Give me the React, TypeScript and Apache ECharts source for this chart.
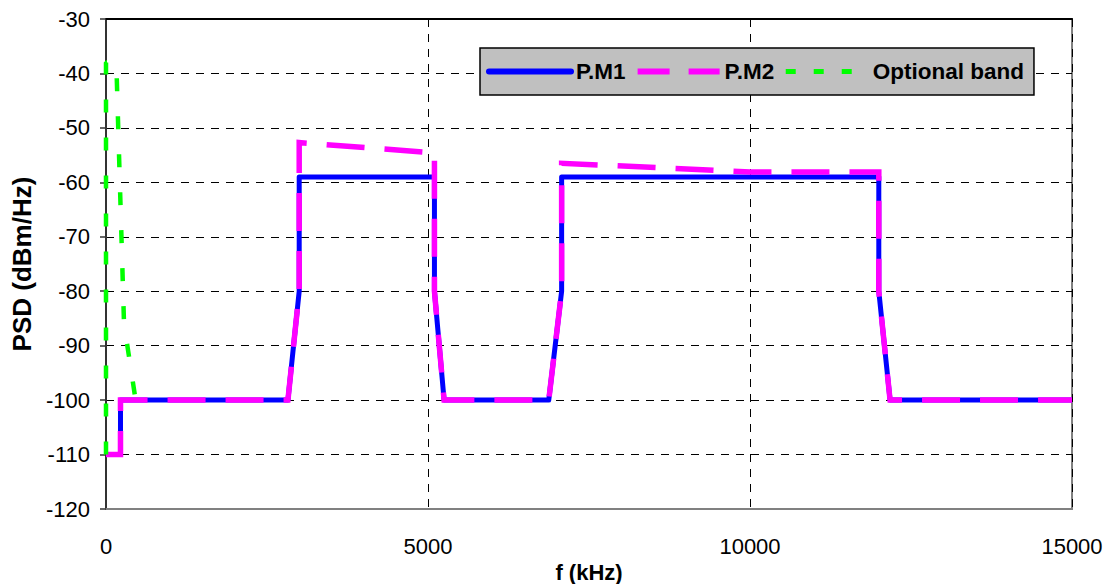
import React, { useEffect, useRef } from "react";
import * as echarts from "echarts";

const xTicks = [0, 5000, 10000, 15000];
const yTicks = [-120, -110, -100, -90, -80, -70, -60, -50, -40, -30];

const seriesNames = ["P.M1", "P.M2", "Optional band"];

const freqM1 = [0, 225, 225, 2825, 3000, 3000, 5100, 5100, 5250, 6875, 7075, 7075, 12000, 12000, 12175, 15000];
const psdM1 = [-110, -110, -100, -100, -80, -59, -59, -80, -100, -100, -80, -59, -59, -80, -100, -100];

const freqM2 = [0, 225, 225, 2825, 3000, 3000, 5100, 5100, 5250, 6875, 7075, 7075, 10000, 12000, 12000, 12175, 15000];
const psdM2 = [-110, -110, -100, -100, -80, -52.7, -54.6, -80, -100, -100, -80, -56.5, -58.1, -58.1, -80, -100, -100];

const freqOpt = [0, 0, 160, 280, 460];
const psdOpt = [-110, -38, -38, -86, -100];

const FONT = "'Liberation Sans', Arial, sans-serif";

function pairs(xs: number[], ys: number[]) {
  return xs.map((x, i) => [x, ys[i]]);
}

export default function App() {
  const ref = useRef<HTMLDivElement>(null);
  useEffect(() => {
    if (!ref.current) return;
    const chart = echarts.init(ref.current, null, { renderer: "svg" });
    chart.setOption({
      animation: false,
      backgroundColor: "#ffffff",
      grid: {
        left: 106,
        right: 44,
        top: 19,
        bottom: 75,
        containLabel: false,
        outerBoundsMode: "none",
        show: true,
        borderColor: "#808080",
        borderWidth: 2,
        backgroundColor: "transparent",
      },
      legend: {
        data: [
          {
            name: seriesNames[0],
            lineStyle: { width: 6, color: "#0000ff", type: "solid", cap: "round" },
            itemStyle: { opacity: 0 },
          },
          {
            name: seriesNames[1],
            lineStyle: { width: 6, color: "#ff00ff", type: [32, 19] },
            itemStyle: { opacity: 0 },
          },
          {
            name: seriesNames[2],
            lineStyle: { width: 5, color: "#00ff00", type: [10, 18] },
            itemStyle: { opacity: 0 },
          },
        ],
        left: 480,
        top: 48,
        orient: "horizontal",
        backgroundColor: "#c0c0c0",
        borderColor: "#000000",
        borderWidth: 1.5,
        borderRadius: 0,
        padding: [12, 10, 12, 6],
        itemWidth: 82,
        itemHeight: 14,
        itemGap: 9,
        textStyle: {
          fontFamily: FONT,
          fontWeight: "bold",
          fontSize: 22.5,
          color: "#000000",
        },
      },
      xAxis: [
        {
          type: "value",
          min: 0,
          max: 15000,
          interval: 5000,
          name: "f (kHz)",
          nameLocation: "middle",
          nameGap: 45,
          nameTextStyle: { fontFamily: FONT, fontWeight: "bold", fontSize: 22, color: "#000" },
          axisLine: { show: true, lineStyle: { color: "#808080", width: 2 } },
          axisTick: { show: false },
          axisLabel: {
            fontFamily: FONT,
            fontSize: 22,
            color: "#000",
            margin: 26,
            formatter: (v: number) => (xTicks.includes(v) ? String(v) : ""),
          },
          splitLine: { show: true, lineStyle: { color: "#000", width: 1, type: [8, 7] } },
        },
        {
          type: "value",
          position: "top",
          min: 0,
          max: 15000,
          interval: 5000,
          axisLine: { show: true, lineStyle: { color: "#000", width: 2 } },
          axisTick: { show: false },
          axisLabel: { show: false },
          splitLine: { show: false },
        },
      ],
      yAxis: {
        type: "value",
        min: -120,
        max: -30,
        interval: 10,
        name: "PSD (dBm/Hz)",
        nameLocation: "middle",
        nameGap: 68,
        nameTextStyle: { fontFamily: FONT, fontWeight: "bold", fontSize: 26, color: "#000" },
        axisLine: { show: true, lineStyle: { color: "#333", width: 2 } },
        axisTick: { show: true, inside: false, length: 6, lineStyle: { color: "#333", width: 1.5 } },
        axisLabel: {
          fontFamily: FONT,
          fontSize: 22,
          color: "#000",
          margin: 16,
          formatter: (v: number) => (yTicks.includes(v) ? String(v) : ""),
        },
        splitLine: { show: true, lineStyle: { color: "#000", width: 1, type: [8, 7] } },
      },
      series: [
        {
          name: seriesNames[0],
          type: "line",
          data: pairs(freqM1, psdM1),
          showSymbol: false,
          symbol: "none",
          lineStyle: { color: "#0000ff", width: 5, type: "solid", join: "round" },
          itemStyle: { color: "#0000ff" },
          z: 2,
        },
        {
          name: seriesNames[1],
          type: "line",
          data: pairs(freqM2, psdM2),
          showSymbol: false,
          symbol: "none",
          lineStyle: { color: "#ff00ff", width: 5.5, type: [38, 20], cap: "butt", join: "miter" },
          itemStyle: { color: "#ff00ff" },
          z: 3,
        },
        {
          name: seriesNames[2],
          type: "line",
          data: pairs(freqOpt, psdOpt),
          showSymbol: false,
          symbol: "none",
          lineStyle: { color: "#00ff00", width: 4.5, type: [13, 25], cap: "butt" },
          itemStyle: { color: "#00ff00" },
          z: 4,
        },
      ],
    });
    return () => chart.dispose();
  }, []);
  return (
    <div
      ref={ref}
      style={{ position: "fixed", left: 0, top: 0, width: 1116, height: 584, background: "#fff" }}
    />
  );
}
